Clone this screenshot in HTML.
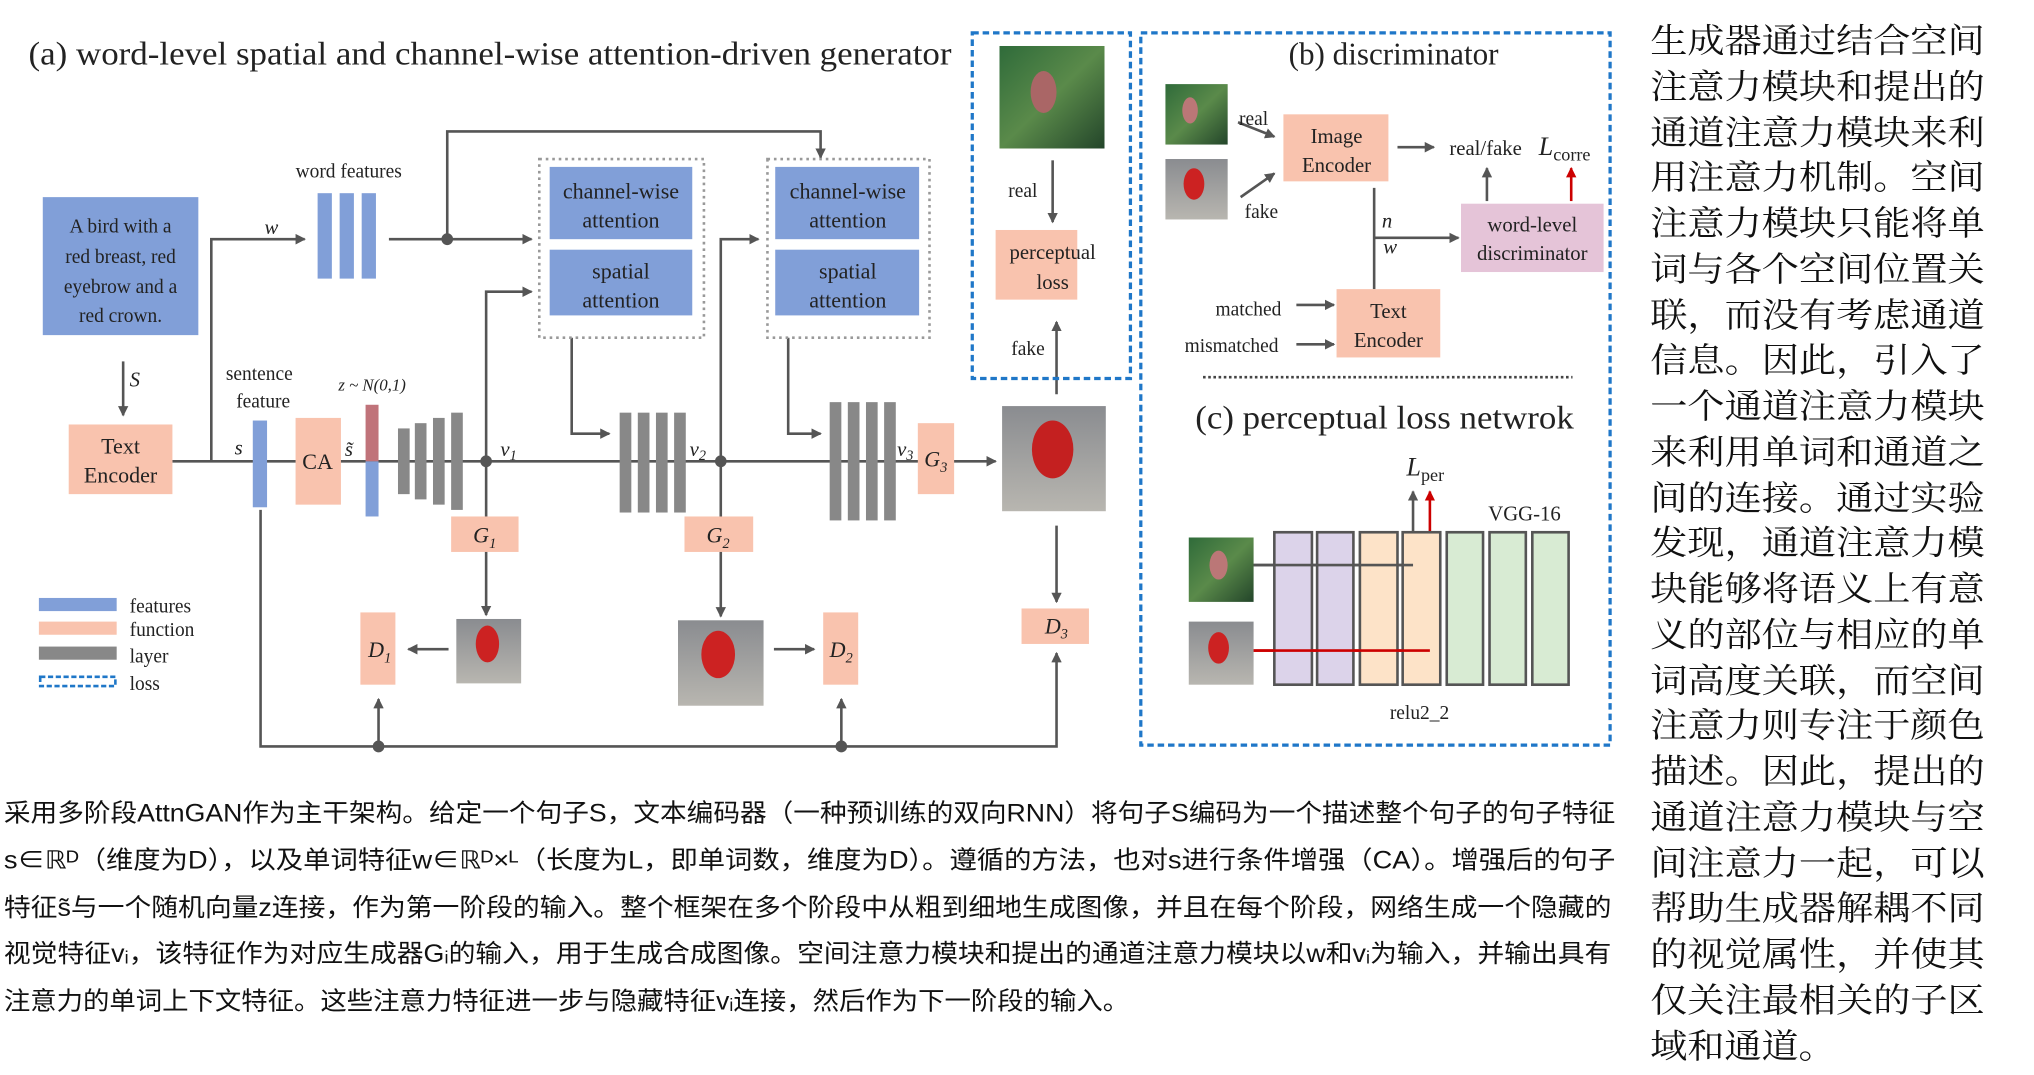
<!DOCTYPE html>
<html><head><meta charset="utf-8"><style>
html,body{margin:0;padding:0;background:#fff;}
svg{display:block;}
.t{font-family:"Liberation Serif",serif;fill:#222;}
.s{font-family:"Liberation Sans","Noto Sans CJK SC",sans-serif;fill:#111;}
.c{font-family:"Liberation Serif","Noto Serif CJK SC",serif;fill:#111;}
</style></head><body>
<svg width="2034" height="1075" viewBox="0 0 1569 818" preserveAspectRatio="none" xmlns="http://www.w3.org/2000/svg">
<defs>
<marker id="a" markerWidth="8" markerHeight="8" refX="7" refY="4" orient="auto" markerUnits="userSpaceOnUse"><path d="M0,0 L8,4 L0,8 z" fill="#555"/></marker>
<marker id="r" markerWidth="8" markerHeight="8" refX="7" refY="4" orient="auto" markerUnits="userSpaceOnUse"><path d="M0,0 L8,4 L0,8 z" fill="#c00"/></marker>
<linearGradient id="gr" x1="0" y1="0" x2="1" y2="1"><stop offset="0" stop-color="#2f6b3a"/><stop offset="0.5" stop-color="#5a8a4a"/><stop offset="1" stop-color="#23452a"/></linearGradient>
<linearGradient id="gy" x1="0" y1="0" x2="0" y2="1"><stop offset="0" stop-color="#8a8c90"/><stop offset="1" stop-color="#b8b6b0"/></linearGradient>
</defs>
<g stroke="#555" stroke-width="2" fill="none">
<line x1="133" y1="351" x2="768" y2="351" marker-end="url(#a)"/>
<polyline points="163,351 163,182 235,182" marker-end="url(#a)"/>
<line x1="300" y1="182" x2="410" y2="182" marker-end="url(#a)"/>
<polyline points="345,182 345,100 633,100 633,120" marker-end="url(#a)"/>
<polyline points="375,351 375,222 410,222" marker-end="url(#a)"/>
<line x1="375" y1="351" x2="375" y2="468" marker-end="url(#a)"/>
<polyline points="441,257 441,330 470,330" marker-end="url(#a)"/>
<polyline points="556,351 556,182 585,182" marker-end="url(#a)"/>
<line x1="556" y1="351" x2="556" y2="469" marker-end="url(#a)"/>
<polyline points="608,257 608,330 633,330" marker-end="url(#a)"/>
<line x1="597" y1="494" x2="628" y2="494" marker-end="url(#a)"/>
<line x1="346" y1="494" x2="315" y2="494" marker-end="url(#a)"/>
<line x1="95" y1="275" x2="95" y2="316" marker-end="url(#a)"/>
<line x1="815" y1="400" x2="815" y2="458" marker-end="url(#a)"/>
<polyline points="201,388 201,568 815,568 815,497" marker-end="url(#a)"/>
<line x1="292" y1="568" x2="292" y2="532" marker-end="url(#a)"/>
<line x1="649" y1="568" x2="649" y2="532" marker-end="url(#a)"/>
<line x1="812" y1="122" x2="812" y2="169" marker-end="url(#a)"/>
<line x1="815" y1="300" x2="815" y2="245" marker-end="url(#a)"/>
<line x1="955" y1="93" x2="983" y2="104" marker-end="url(#a)"/>
<line x1="957" y1="150" x2="983" y2="132" marker-end="url(#a)"/>
<line x1="1078" y1="112" x2="1106" y2="112" marker-end="url(#a)"/>
<line x1="1147" y1="153" x2="1147" y2="128" marker-end="url(#a)"/>
<line x1="1060" y1="143" x2="1060" y2="220"/>
<line x1="1060" y1="181" x2="1125" y2="181" marker-end="url(#a)"/>
<line x1="1000" y1="232" x2="1029" y2="232" marker-end="url(#a)"/>
<line x1="1000" y1="262" x2="1029" y2="262" marker-end="url(#a)"/>
<polyline points="967,430 1090,430 1090,374" marker-end="url(#a)"/>
</g>
<g stroke="#c00" stroke-width="2" fill="none">
<line x1="1212" y1="153" x2="1212" y2="128" marker-end="url(#r)"/>
<polyline points="967,495 1103,495 1103,374" marker-end="url(#r)"/>
</g>
<g fill="#555"><circle cx="345" cy="182" r="4.5"/><circle cx="375" cy="351" r="4.5"/><circle cx="556" cy="351" r="4.5"/><circle cx="292" cy="568" r="4.5"/><circle cx="649" cy="568" r="4.5"/></g>

<rect x="750" y="25" width="122" height="263" fill="none" stroke="#1f77c8" stroke-width="2.5" stroke-dasharray="5,3"/>
<rect x="880" y="25" width="362" height="542" fill="none" stroke="#1f77c8" stroke-width="2.5" stroke-dasharray="5,3"/>
<rect x="416" y="121" width="127" height="136" fill="none" stroke="#999" stroke-width="2" stroke-dasharray="2,3"/>
<rect x="592" y="121" width="125" height="136" fill="none" stroke="#999" stroke-width="2" stroke-dasharray="2,3"/>
<line x1="928" y1="287" x2="1213" y2="287" stroke="#444" stroke-width="2" stroke-dasharray="2,2"/>

<g fill="#819fd8">
<rect x="33" y="150" width="120" height="105"/>
<rect x="424" y="127" width="110" height="55"/><rect x="424" y="190" width="110" height="50"/>
<rect x="598" y="127" width="111" height="55"/><rect x="598" y="190" width="111" height="50"/>
<rect x="245" y="147" width="11" height="65"/><rect x="262" y="147" width="11" height="65"/><rect x="279" y="147" width="11" height="65"/>
<rect x="195" y="320" width="11" height="66"/>
<rect x="282" y="351" width="10" height="42"/>
<rect x="30" y="455" width="60" height="10"/>
</g>
<rect x="282" y="308" width="10" height="43" fill="#c0737a"/>
<g fill="#f9c3ae">
<rect x="53" y="323" width="80" height="53"/>
<rect x="228" y="318" width="35" height="66"/>
<rect x="348" y="393" width="52" height="27"/><rect x="528" y="393" width="53" height="27"/>
<rect x="708" y="322" width="28" height="54"/>
<rect x="278" y="466" width="27" height="55"/><rect x="635" y="466" width="27" height="55"/>
<rect x="788" y="463" width="52" height="27"/>
<rect x="768" y="175" width="63" height="53"/>
<rect x="990" y="87" width="81" height="51"/>
<rect x="1031" y="220" width="80" height="52"/>
<rect x="30" y="473" width="60" height="10"/>
</g>
<rect x="1127" y="155" width="110" height="52" fill="#e5c4d8"/>
<g fill="#888">
<rect x="307" y="326" width="9" height="50"/><rect x="320" y="322" width="9" height="58"/><rect x="334" y="318" width="9" height="66"/><rect x="348" y="314" width="9" height="74"/>
<rect x="478" y="314" width="9" height="76"/><rect x="492" y="314" width="9" height="76"/><rect x="506" y="314" width="9" height="76"/><rect x="520" y="314" width="9" height="76"/>
<rect x="640" y="306" width="9" height="90"/><rect x="654" y="306" width="9" height="90"/><rect x="668" y="306" width="9" height="90"/><rect x="682" y="306" width="9" height="90"/>
<rect x="30" y="492" width="60" height="10"/>
</g>
<rect x="31" y="515" width="58" height="7" fill="none" stroke="#1f77c8" stroke-width="2" stroke-dasharray="4,2"/>
<g stroke="#555" stroke-width="2">
<rect x="983" y="405" width="29" height="116" fill="#dcd3ea"/><rect x="1016" y="405" width="28" height="116" fill="#dcd3ea"/>
<rect x="1049" y="405" width="29" height="116" fill="#fde3c8"/><rect x="1082" y="405" width="29" height="116" fill="#fde3c8"/>
<rect x="1116" y="405" width="28" height="116" fill="#d8ebd3"/><rect x="1149" y="405" width="28" height="116" fill="#d8ebd3"/><rect x="1182" y="405" width="28" height="116" fill="#d8ebd3"/>
</g>
<line x1="967" y1="430" x2="1090" y2="430" stroke="#555" stroke-width="2"/>
<line x1="967" y1="495" x2="1103" y2="495" stroke="#c00" stroke-width="2"/>
<g>
<rect x="771" y="35" width="81" height="78" fill="url(#gr)"/><ellipse cx="805" cy="70" rx="10" ry="16" fill="#a66"/>
<rect x="899" y="64" width="48" height="46" fill="url(#gr)"/><ellipse cx="918" cy="84" rx="6" ry="10" fill="#b77"/>
<rect x="899" y="121" width="48" height="46" fill="url(#gy)"/><ellipse cx="921" cy="140" rx="8" ry="12" fill="#c22"/>
<rect x="917" y="409" width="50" height="49" fill="url(#gr)"/><ellipse cx="940" cy="430" rx="7" ry="11" fill="#b77"/>
<rect x="917" y="473" width="50" height="48" fill="url(#gy)"/><ellipse cx="940" cy="493" rx="8" ry="12" fill="#c22"/>
<rect x="773" y="309" width="80" height="80" fill="url(#gy)"/><ellipse cx="812" cy="342" rx="16" ry="22" fill="#c42020"/>
<rect x="352" y="471" width="50" height="49" fill="url(#gy)"/><ellipse cx="376" cy="490" rx="9" ry="14" fill="#c22"/>
<rect x="523" y="472" width="66" height="65" fill="url(#gy)"/><ellipse cx="554" cy="498" rx="13" ry="18" fill="#c22"/>
</g>
<g class="t" font-size="25"><text x="22" y="49" textLength="712" lengthAdjust="spacingAndGlyphs">(a) word-level spatial and channel-wise attention-driven generator</text>
<text x="1075" y="49" text-anchor="middle" font-size="24">(b) discriminator</text>
<text x="1068" y="326" text-anchor="middle" font-size="25" textLength="292" lengthAdjust="spacingAndGlyphs">(c) perceptual loss netwrok</text></g>
<g class="t" font-size="15" text-anchor="middle" fill="#111">
<text x="93" y="177">A bird with a</text><text x="93" y="200">red breast, red</text><text x="93" y="223">eyebrow and a</text><text x="93" y="245">red crown.</text>
<text x="479" y="151" font-size="17">channel-wise</text><text x="479" y="173" font-size="17">attention</text>
<text x="479" y="212" font-size="17">spatial</text><text x="479" y="234" font-size="17">attention</text>
<text x="654" y="151" font-size="17">channel-wise</text><text x="654" y="173" font-size="17">attention</text>
<text x="654" y="212" font-size="17">spatial</text><text x="654" y="234" font-size="17">attention</text>
<text x="93" y="345" font-size="17">Text</text><text x="93" y="367" font-size="17">Encoder</text>
<text x="245" y="357" font-size="17">CA</text>
<text x="269" y="135">word features</text>
<text x="200" y="289">sentence</text><text x="203" y="310">feature</text>
<text x="812" y="197" font-size="16">perceptual</text><text x="812" y="220" font-size="16">loss</text>
<text x="789" y="150">real</text><text x="793" y="270">fake</text>
<text x="1031" y="109" font-size="16">Image</text><text x="1031" y="131" font-size="16">Encoder</text>
<text x="1071" y="242" font-size="16">Text</text><text x="1071" y="264" font-size="16">Encoder</text>
<text x="1182" y="176" font-size="16">word-level</text><text x="1182" y="198" font-size="16">discriminator</text>
<text x="967" y="95">real</text><text x="973" y="166">fake</text>
<text x="1146" y="118" font-size="16">real/fake</text>
<text x="963" y="240">matched</text><text x="950" y="268">mismatched</text>
<text x="1176" y="396" font-size="16">VGG-16</text>
<text x="1095" y="547">relu2_2</text>
</g>
<g class="t" font-size="15" fill="#111">
<text x="100" y="466">features</text><text x="100" y="484">function</text><text x="100" y="504">layer</text><text x="100" y="525">loss</text>
</g>
<g class="t" font-style="italic" font-size="16" fill="#111">
<text x="204" y="178">w</text><text x="100" y="294">S</text><text x="181" y="346">s</text>
<text x="266" y="347">s̃</text>
<text x="261" y="297" font-size="13">z ~ N(0,1)</text>
<text x="386" y="347">v<tspan font-size="11" dy="3">1</tspan></text>
<text x="532" y="347">v<tspan font-size="11" dy="3">2</tspan></text>
<text x="692" y="347">v<tspan font-size="11" dy="3">3</tspan></text>
<text x="365" y="413" font-size="17">G<tspan font-size="11" dy="4">1</tspan></text>
<text x="545" y="413" font-size="17">G<tspan font-size="11" dy="4">2</tspan></text>
<text x="713" y="355" font-size="17">G<tspan font-size="11" dy="4">3</tspan></text>
<text x="284" y="500" font-size="17">D<tspan font-size="11" dy="4">1</tspan></text>
<text x="640" y="500" font-size="17">D<tspan font-size="11" dy="4">2</tspan></text>
<text x="806" y="482" font-size="17">D<tspan font-size="11" dy="4">3</tspan></text>
<text x="1066" y="173">n</text><text x="1067" y="193">w</text>
<text x="1187" y="118" font-size="20">L<tspan font-size="14" font-style="normal" dy="4">corre</tspan></text>
<text x="1085" y="362" font-size="20">L<tspan font-size="14" font-style="normal" dy="4">per</tspan></text>
</g>
<g class="s" font-size="19">
<text x="3" y="625" textLength="1243" lengthAdjust="spacingAndGlyphs">采用多阶段AttnGAN作为主干架构。给定一个句子S，文本编码器（一种预训练的双向RNN）将句子S编码为一个描述整个句子的句子特征</text>
<text x="3" y="661" textLength="1243" lengthAdjust="spacingAndGlyphs">s∈ℝᴰ（维度为D），以及单词特征w∈ℝᴰ×ᴸ（长度为L，即单词数，维度为D）。遵循的方法，也对s进行条件增强（CA）。增强后的句子</text>
<text x="3" y="697" textLength="1240" lengthAdjust="spacingAndGlyphs">特征s̃与一个随机向量z连接，作为第一阶段的输入。整个框架在多个阶段中从粗到细地生成图像，并且在每个阶段，网络生成一个隐藏的</text>
<text x="3" y="732" textLength="1240" lengthAdjust="spacingAndGlyphs">视觉特征vᵢ，该特征作为对应生成器Gᵢ的输入，用于生成合成图像。空间注意力模块和提出的通道注意力模块以w和vᵢ为输入，并输出具有</text>
<text x="3" y="768" textLength="868" lengthAdjust="spacingAndGlyphs">注意力的单词上下文特征。这些注意力特征进一步与隐藏特征vᵢ连接，然后作为下一阶段的输入。</text>
</g>
<g class="c" font-size="26">
<text x="1273" y="40" textLength="258" lengthAdjust="spacingAndGlyphs">生成器通过结合空间</text>
<text x="1273" y="75" textLength="258" lengthAdjust="spacingAndGlyphs">注意力模块和提出的</text>
<text x="1273" y="110" textLength="258" lengthAdjust="spacingAndGlyphs">通道注意力模块来利</text>
<text x="1273" y="144" textLength="258" lengthAdjust="spacingAndGlyphs">用注意力机制。空间</text>
<text x="1273" y="179" textLength="258" lengthAdjust="spacingAndGlyphs">注意力模块只能将单</text>
<text x="1273" y="214" textLength="258" lengthAdjust="spacingAndGlyphs">词与各个空间位置关</text>
<text x="1273" y="249" textLength="258" lengthAdjust="spacingAndGlyphs">联，而没有考虑通道</text>
<text x="1273" y="283" textLength="258" lengthAdjust="spacingAndGlyphs">信息。因此，引入了</text>
<text x="1273" y="318" textLength="258" lengthAdjust="spacingAndGlyphs">一个通道注意力模块</text>
<text x="1273" y="353" textLength="258" lengthAdjust="spacingAndGlyphs">来利用单词和通道之</text>
<text x="1273" y="388" textLength="258" lengthAdjust="spacingAndGlyphs">间的连接。通过实验</text>
<text x="1273" y="422" textLength="258" lengthAdjust="spacingAndGlyphs">发现，通道注意力模</text>
<text x="1273" y="457" textLength="258" lengthAdjust="spacingAndGlyphs">块能够将语义上有意</text>
<text x="1273" y="492" textLength="258" lengthAdjust="spacingAndGlyphs">义的部位与相应的单</text>
<text x="1273" y="527" textLength="258" lengthAdjust="spacingAndGlyphs">词高度关联，而空间</text>
<text x="1273" y="561" textLength="258" lengthAdjust="spacingAndGlyphs">注意力则专注于颜色</text>
<text x="1273" y="596" textLength="258" lengthAdjust="spacingAndGlyphs">描述。因此，提出的</text>
<text x="1273" y="631" textLength="258" lengthAdjust="spacingAndGlyphs">通道注意力模块与空</text>
<text x="1273" y="666" textLength="258" lengthAdjust="spacingAndGlyphs">间注意力一起，可以</text>
<text x="1273" y="700" textLength="258" lengthAdjust="spacingAndGlyphs">帮助生成器解耦不同</text>
<text x="1273" y="735" textLength="258" lengthAdjust="spacingAndGlyphs">的视觉属性，并使其</text>
<text x="1273" y="770" textLength="258" lengthAdjust="spacingAndGlyphs">仅关注最相关的子区</text>
<text x="1273" y="805" textLength="143" lengthAdjust="spacingAndGlyphs">域和通道。</text>
</g>
</svg>
</body></html>
